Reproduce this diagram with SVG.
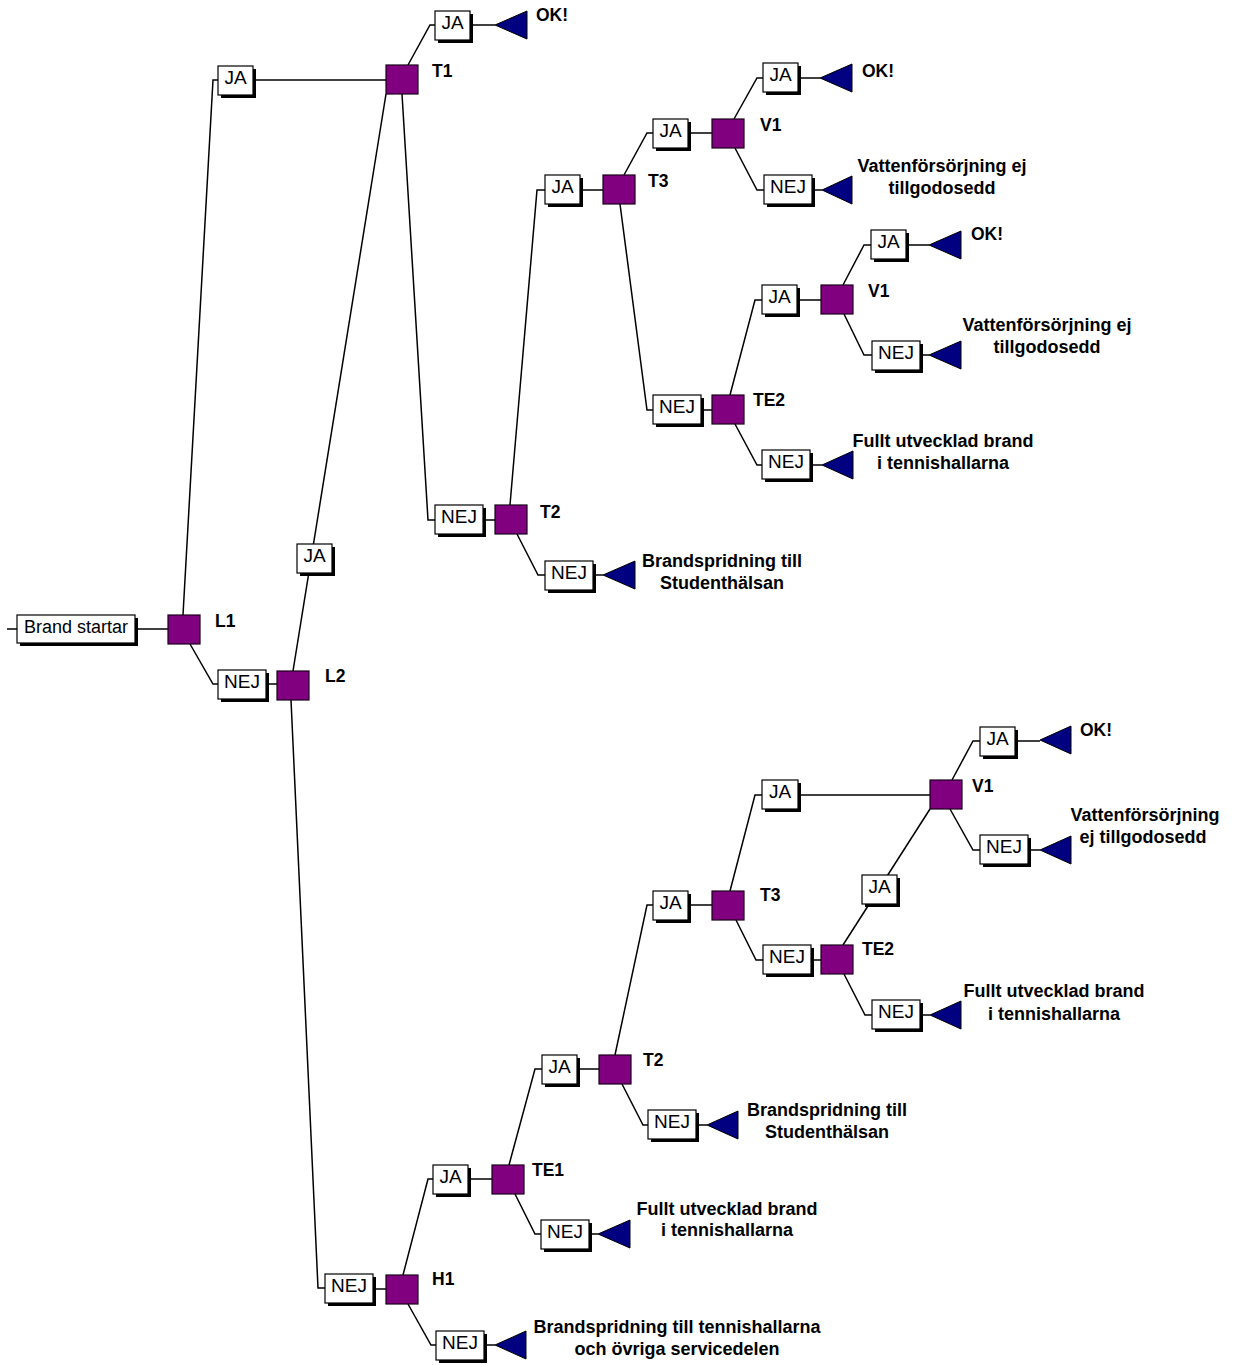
<svg xmlns="http://www.w3.org/2000/svg" width="1236" height="1365" viewBox="0 0 1236 1365">
<style>
.ln{stroke:#000;stroke-width:1.5;fill:none}
.sh{fill:#000}
.bx{fill:#fff;stroke:#000;stroke-width:1.2}
.sq{fill:#800080;stroke:#1a001a;stroke-width:1.2}
.tri{fill:#000080;stroke:#000;stroke-width:1}
.bt{font-family:"Liberation Sans",Arial,sans-serif;font-size:19px;text-anchor:middle;fill:#000}
.st{font-family:"Liberation Sans",Arial,sans-serif;font-size:18px;text-anchor:middle;fill:#000}
.lb{font-family:"Liberation Sans",Arial,sans-serif;font-size:17.5px;font-weight:bold;fill:#000}
.oc{font-family:"Liberation Sans",Arial,sans-serif;font-size:18px;font-weight:bold;text-anchor:middle;fill:#000}
</style>
<rect width="1236" height="1365" fill="#fff"/>
<g id="connectors">
<polyline class="ln" points="7,629 17,629"/>
<polyline class="ln" points="135,629 168,629"/>
<polyline class="ln" points="183,615 213,80 218,80"/>
<polyline class="ln" points="253,80 386,80"/>
<polyline class="ln" points="190,644 213,684 218,684"/>
<polyline class="ln" points="266,684 277,684"/>
<polyline class="ln" points="293,671 386,94"/>
<polyline class="ln" points="291,700 318,1288 325,1288"/>
<polyline class="ln" points="373,1289 386,1289"/>
<polyline class="ln" points="408,65 430,25 435,25"/>
<polyline class="ln" points="470,25 495,25"/>
<polyline class="ln" points="402,94 428,520 435,520"/>
<polyline class="ln" points="483,520 495,520"/>
<polyline class="ln" points="510,505 537,190 545,190"/>
<polyline class="ln" points="580,190 603,190"/>
<polyline class="ln" points="624,175 647,133 653,133"/>
<polyline class="ln" points="688,133 712,133"/>
<polyline class="ln" points="620,204 647,410 653,410"/>
<polyline class="ln" points="701,410 712,410"/>
<polyline class="ln" points="734,119 757,78 763,78"/>
<polyline class="ln" points="798,78 820,78"/>
<polyline class="ln" points="735,148 757,190 764,190"/>
<polyline class="ln" points="812,190 822,190"/>
<polyline class="ln" points="730,395 755,300 762,300"/>
<polyline class="ln" points="797,300 821,300"/>
<polyline class="ln" points="735,424 757,465 762,465"/>
<polyline class="ln" points="810,465 822,465"/>
<polyline class="ln" points="843,285 864,245 871,245"/>
<polyline class="ln" points="906,245 929,245"/>
<polyline class="ln" points="844,314 864,355 872,355"/>
<polyline class="ln" points="920,355 929,355"/>
<polyline class="ln" points="517,534 538,575 545,575"/>
<polyline class="ln" points="593,575 603,575"/>
<polyline class="ln" points="403,1275 428,1179 433,1179"/>
<polyline class="ln" points="468,1179 492,1179"/>
<polyline class="ln" points="408,1304 431,1345 436,1345"/>
<polyline class="ln" points="484,1345 495,1345"/>
<polyline class="ln" points="509,1165 535,1069 542,1069"/>
<polyline class="ln" points="577,1069 599,1069"/>
<polyline class="ln" points="515,1194 535,1234 541,1234"/>
<polyline class="ln" points="589,1234 598,1234"/>
<polyline class="ln" points="615,1055 647,905 653,905"/>
<polyline class="ln" points="688,905 712,905"/>
<polyline class="ln" points="622,1084 643,1125 648,1125"/>
<polyline class="ln" points="696,1125 707,1125"/>
<polyline class="ln" points="730,891 755,795 762,795"/>
<polyline class="ln" points="798,795 930,795"/>
<polyline class="ln" points="736,920 756,960 763,960"/>
<polyline class="ln" points="811,960 821,960"/>
<polyline class="ln" points="843,945 930,809"/>
<polyline class="ln" points="844,974 865,1015 872,1015"/>
<polyline class="ln" points="920,1015 930,1015"/>
<polyline class="ln" points="952,780 973,741 980,741"/>
<polyline class="ln" points="1015,741 1040,741"/>
<polyline class="ln" points="950,809 973,850 980,850"/>
<polyline class="ln" points="1028,850 1040,850"/>
</g>
<g id="start"><rect class="sh" x="20" y="618" width="118" height="28"/><rect class="bx" x="17" y="615" width="118" height="28"/><text class="st" x="76" y="633">Brand startar</text></g>
<g id="L1"><rect class="sq" x="168" y="615" width="32" height="29"/><text class="lb" x="215" y="627">L1</text></g>
<g id="L2"><rect class="sq" x="277" y="671" width="32" height="29"/><text class="lb" x="325" y="682">L2</text></g>
<g id="T1"><rect class="sq" x="386" y="65" width="32" height="29"/><text class="lb" x="432" y="77">T1</text></g>
<g id="T2a"><rect class="sq" x="495" y="505" width="32" height="29"/><text class="lb" x="540" y="518">T2</text></g>
<g id="T3a"><rect class="sq" x="603" y="175" width="32" height="29"/><text class="lb" x="648" y="187">T3</text></g>
<g id="V1a"><rect class="sq" x="712" y="119" width="32" height="29"/><text class="lb" x="760" y="131">V1</text></g>
<g id="V1b"><rect class="sq" x="821" y="285" width="32" height="29"/><text class="lb" x="868" y="297">V1</text></g>
<g id="TE2a"><rect class="sq" x="712" y="395" width="32" height="29"/><text class="lb" x="753" y="406">TE2</text></g>
<g id="V1c"><rect class="sq" x="930" y="780" width="32" height="29"/><text class="lb" x="972" y="792">V1</text></g>
<g id="T3b"><rect class="sq" x="712" y="891" width="32" height="29"/><text class="lb" x="760" y="901">T3</text></g>
<g id="TE2b"><rect class="sq" x="821" y="945" width="32" height="29"/><text class="lb" x="862" y="955">TE2</text></g>
<g id="T2b"><rect class="sq" x="599" y="1055" width="32" height="29"/><text class="lb" x="643" y="1066">T2</text></g>
<g id="TE1"><rect class="sq" x="492" y="1165" width="32" height="29"/><text class="lb" x="532" y="1176">TE1</text></g>
<g id="H1"><rect class="sq" x="386" y="1275" width="32" height="29"/><text class="lb" x="432" y="1285">H1</text></g>
<g id="b_L1_ja"><rect class="sh" x="221" y="69" width="35" height="29"/><rect class="bx" x="218" y="66" width="35" height="29"/><text class="bt" x="235.5" y="84">JA</text></g>
<g id="b_L1_nej"><rect class="sh" x="221" y="673" width="48" height="29"/><rect class="bx" x="218" y="670" width="48" height="29"/><text class="bt" x="242" y="688">NEJ</text></g>
<g id="b_L2_ja"><rect class="sh" x="300" y="547" width="35" height="29"/><rect class="bx" x="297" y="544" width="35" height="29"/><text class="bt" x="314.5" y="562">JA</text></g>
<g id="b_L2_nej"><rect class="sh" x="328" y="1277" width="48" height="29"/><rect class="bx" x="325" y="1274" width="48" height="29"/><text class="bt" x="349" y="1292">NEJ</text></g>
<g id="b_T1_ja"><rect class="sh" x="438" y="14" width="35" height="29"/><rect class="bx" x="435" y="11" width="35" height="29"/><text class="bt" x="452.5" y="29">JA</text></g>
<g id="b_T1_nej"><rect class="sh" x="438" y="508" width="48" height="29"/><rect class="bx" x="435" y="505" width="48" height="29"/><text class="bt" x="459" y="523">NEJ</text></g>
<g id="b_T2a_ja"><rect class="sh" x="548" y="178" width="35" height="29"/><rect class="bx" x="545" y="175" width="35" height="29"/><text class="bt" x="562.5" y="193">JA</text></g>
<g id="b_T2a_nej"><rect class="sh" x="548" y="564" width="48" height="29"/><rect class="bx" x="545" y="561" width="48" height="29"/><text class="bt" x="569" y="579">NEJ</text></g>
<g id="b_T3a_ja"><rect class="sh" x="656" y="122" width="35" height="29"/><rect class="bx" x="653" y="119" width="35" height="29"/><text class="bt" x="670.5" y="137">JA</text></g>
<g id="b_T3a_nej"><rect class="sh" x="656" y="398" width="48" height="29"/><rect class="bx" x="653" y="395" width="48" height="29"/><text class="bt" x="677" y="413">NEJ</text></g>
<g id="b_V1a_ja"><rect class="sh" x="766" y="66" width="35" height="29"/><rect class="bx" x="763" y="63" width="35" height="29"/><text class="bt" x="780.5" y="81">JA</text></g>
<g id="b_V1a_nej"><rect class="sh" x="767" y="178" width="48" height="29"/><rect class="bx" x="764" y="175" width="48" height="29"/><text class="bt" x="788" y="193">NEJ</text></g>
<g id="b_TE2a_ja"><rect class="sh" x="765" y="288" width="35" height="29"/><rect class="bx" x="762" y="285" width="35" height="29"/><text class="bt" x="779.5" y="303">JA</text></g>
<g id="b_TE2a_nej"><rect class="sh" x="765" y="453" width="48" height="29"/><rect class="bx" x="762" y="450" width="48" height="29"/><text class="bt" x="786" y="468">NEJ</text></g>
<g id="b_V1b_ja"><rect class="sh" x="874" y="233" width="35" height="29"/><rect class="bx" x="871" y="230" width="35" height="29"/><text class="bt" x="888.5" y="248">JA</text></g>
<g id="b_V1b_nej"><rect class="sh" x="875" y="344" width="48" height="29"/><rect class="bx" x="872" y="341" width="48" height="29"/><text class="bt" x="896" y="359">NEJ</text></g>
<g id="b_H1_ja"><rect class="sh" x="436" y="1168" width="35" height="29"/><rect class="bx" x="433" y="1165" width="35" height="29"/><text class="bt" x="450.5" y="1183">JA</text></g>
<g id="b_H1_nej"><rect class="sh" x="439" y="1334" width="48" height="29"/><rect class="bx" x="436" y="1331" width="48" height="29"/><text class="bt" x="460" y="1349">NEJ</text></g>
<g id="b_TE1_ja"><rect class="sh" x="545" y="1058" width="35" height="29"/><rect class="bx" x="542" y="1055" width="35" height="29"/><text class="bt" x="559.5" y="1073">JA</text></g>
<g id="b_TE1_nej"><rect class="sh" x="544" y="1223" width="48" height="29"/><rect class="bx" x="541" y="1220" width="48" height="29"/><text class="bt" x="565" y="1238">NEJ</text></g>
<g id="b_T2b_ja"><rect class="sh" x="656" y="894" width="35" height="29"/><rect class="bx" x="653" y="891" width="35" height="29"/><text class="bt" x="670.5" y="909">JA</text></g>
<g id="b_T2b_nej"><rect class="sh" x="651" y="1113" width="48" height="29"/><rect class="bx" x="648" y="1110" width="48" height="29"/><text class="bt" x="672" y="1128">NEJ</text></g>
<g id="b_T3b_ja"><rect class="sh" x="765" y="783" width="36" height="29"/><rect class="bx" x="762" y="780" width="36" height="29"/><text class="bt" x="780" y="798">JA</text></g>
<g id="b_T3b_nej"><rect class="sh" x="766" y="948" width="48" height="29"/><rect class="bx" x="763" y="945" width="48" height="29"/><text class="bt" x="787" y="963">NEJ</text></g>
<g id="b_TE2b_ja"><rect class="sh" x="865" y="878" width="35" height="29"/><rect class="bx" x="862" y="875" width="35" height="29"/><text class="bt" x="879.5" y="893">JA</text></g>
<g id="b_TE2b_nej"><rect class="sh" x="875" y="1003" width="48" height="29"/><rect class="bx" x="872" y="1000" width="48" height="29"/><text class="bt" x="896" y="1018">NEJ</text></g>
<g id="b_V1c_ja"><rect class="sh" x="983" y="730" width="35" height="29"/><rect class="bx" x="980" y="727" width="35" height="29"/><text class="bt" x="997.5" y="745">JA</text></g>
<g id="b_V1c_nej"><rect class="sh" x="983" y="838" width="48" height="29"/><rect class="bx" x="980" y="835" width="48" height="29"/><text class="bt" x="1004" y="853">NEJ</text></g>
<g id="o1"><polygon class="tri" points="495,25 527,11 527,39"/><text class="lb" x="536" y="21">OK!</text></g>
<g id="o2"><polygon class="tri" points="820,78 852,64 852,92"/><text class="lb" x="862" y="77">OK!</text></g>
<g id="o3"><polygon class="tri" points="822,190 852,176 852,204"/><text class="oc" x="942" y="172">Vattenförsörjning ej</text><text class="oc" x="942" y="194">tillgodosedd</text></g>
<g id="o4"><polygon class="tri" points="929,245 961,231 961,259"/><text class="lb" x="971" y="240">OK!</text></g>
<g id="o5"><polygon class="tri" points="929,355 961,341 961,369"/><text class="oc" x="1047" y="331">Vattenförsörjning ej</text><text class="oc" x="1047" y="353">tillgodosedd</text></g>
<g id="o6"><polygon class="tri" points="822,465 853,451 853,479"/><text class="oc" x="943" y="447">Fullt utvecklad brand</text><text class="oc" x="943" y="469">i tennishallarna</text></g>
<g id="o7"><polygon class="tri" points="603,575 635,561 635,589"/><text class="oc" x="722" y="567">Brandspridning till</text><text class="oc" x="722" y="589">Studenthälsan</text></g>
<g id="o8"><polygon class="tri" points="1040,740 1071,726 1071,754"/><text class="lb" x="1080" y="736">OK!</text></g>
<g id="o9"><polygon class="tri" points="1040,850 1071,836 1071,864"/><text class="oc" x="1145" y="821">Vattenförsörjning</text><text class="oc" x="1143" y="843">ej tillgodosedd</text></g>
<g id="o10"><polygon class="tri" points="930,1015 961,1001 961,1029"/><text class="oc" x="1054" y="997">Fullt utvecklad brand</text><text class="oc" x="1054" y="1020">i tennishallarna</text></g>
<g id="o11"><polygon class="tri" points="707,1125 738,1111 738,1139"/><text class="oc" x="827" y="1116">Brandspridning till</text><text class="oc" x="827" y="1138">Studenthälsan</text></g>
<g id="o12"><polygon class="tri" points="598,1234 630,1220 630,1248"/><text class="oc" x="727" y="1215">Fullt utvecklad brand</text><text class="oc" x="727" y="1236">i tennishallarna</text></g>
<g id="o13"><polygon class="tri" points="495,1345 526,1331 526,1359"/><text class="oc" x="677" y="1333">Brandspridning till tennishallarna</text><text class="oc" x="677" y="1355">och övriga servicedelen</text></g>
</svg>
